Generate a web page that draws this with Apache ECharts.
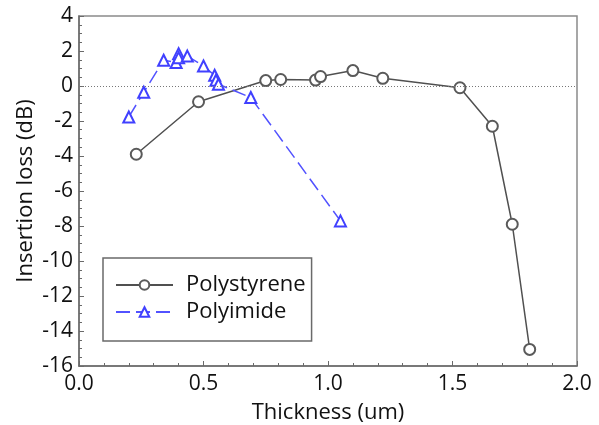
<!DOCTYPE html>
<html>
<head>
<meta charset="utf-8">
<script src="https://cdn.jsdelivr.net/npm/echarts@6/dist/echarts.min.js"></script>
<style>
  html, body { margin: 0; padding: 0; background: #fff; }
  #chart { width: 599px; height: 425px; }
</style>
</head>
<body>
<div id="chart"></div>
<script>
// Insertion loss vs. film thickness for two polymer cladding materials
const polystyreneThickness = [0.23, 0.48, 0.75, 0.81, 0.95, 0.97, 1.10, 1.22, 1.53, 1.66, 1.74, 1.81];
const polystyreneLoss      = [-3.9, -0.9, 0.31, 0.37, 0.34, 0.54, 0.88, 0.44, -0.1, -2.3, -7.9, -15.05];

const polyimideThickness = [0.20, 0.26, 0.34, 0.39, 0.40, 0.40, 0.435, 0.50, 0.545, 0.55, 0.56, 0.69, 1.05];
const polyimideLoss      = [-1.77, -0.36, 1.47, 1.34, 1.85, 1.62, 1.71, 1.14, 0.61, 0.33, 0.10, -0.66, -7.71];

const seriesNames = ['Polystyrene', 'Polyimide'];
const xTicks = [0.0, 0.5, 1.0, 1.5, 2.0];
const yTicks = [-16, -14, -12, -10, -8, -6, -4, -2, 0, 2, 4];

const pairs = (xs, ys) => xs.map((x, i) => [x, ys[i]]);

const font = '"Open Sans", "Noto Sans", sans-serif';
const axisGray = '#6a6a6a';
const textColor = '#111111';

const chart = echarts.init(document.getElementById('chart'), null, { renderer: 'canvas' });

chart.setOption({
  animation: false,
  backgroundColor: '#ffffff',
  textStyle: { fontFamily: font },
  grid: {
    left: 79, top: 16, right: 22, bottom: 59,
    outerBoundsMode: 'none',
    containLabel: false,
    show: true, borderColor: '#8a8a8a', borderWidth: 1.5
  },
  legend: {
    orient: 'vertical',
    left: 103, top: 258,
    padding: [16, 6, 18, 12],
    itemGap: 5,
    itemWidth: 57, itemHeight: 12,
    borderColor: '#6a6a6a', borderWidth: 1.5,
    backgroundColor: '#ffffff',
    textStyle: { fontFamily: font, fontSize: 22, color: textColor, padding: [0, 0, 0, 8] },
    data: seriesNames
  },
  xAxis: {
    type: 'value',
    min: xTicks[0], max: xTicks[xTicks.length - 1], interval: 0.5,
    name: 'Thickness (um)',
    nameLocation: 'middle', nameGap: 36,
    nameMoveOverlap: false,
    nameTextStyle: { fontFamily: font, fontSize: 22, color: textColor },
    axisLine: { show: true, onZero: false, lineStyle: { color: axisGray, width: 1.5 } },
    axisTick: { show: true, inside: true, length: 5, lineStyle: { color: axisGray } },
    minorTick: { show: true, splitNumber: 5, length: 3, lineStyle: { color: axisGray } },
    splitLine: { show: false },
    axisLabel: {
      fontFamily: font, fontSize: 21, color: textColor, margin: 8,
      formatter: v => v.toFixed(1)
    }
  },
  yAxis: {
    type: 'value',
    min: yTicks[0], max: yTicks[yTicks.length - 1], interval: 2,
    name: 'Insertion loss (dB)',
    nameLocation: 'middle', nameGap: 42, nameRotate: 90,
    nameMoveOverlap: false,
    nameTextStyle: { fontFamily: font, fontSize: 22, color: textColor },
    axisLine: { show: true, onZero: false, lineStyle: { color: axisGray, width: 1.5 } },
    axisTick: { show: true, inside: true, length: 5, lineStyle: { color: axisGray } },
    minorTick: { show: true, splitNumber: 4, length: 3, lineStyle: { color: axisGray } },
    splitLine: { show: false },
    axisLabel: { fontFamily: font, fontSize: 21, color: textColor, margin: 6 }
  },
  series: [
    {
      name: seriesNames[0],
      type: 'line',
      data: pairs(polystyreneThickness, polystyreneLoss),
      symbol: 'emptyCircle',
      symbolSize: 11,
      showAllSymbol: true,
      lineStyle: { color: '#505050', width: 1.5 },
      itemStyle: { color: '#5a5a5a', borderWidth: 1.3 },
      z: 3,
      markLine: {
        silent: true,
        symbol: ['none', 'none'],
        label: { show: false },
        lineStyle: { color: '#777777', type: [1, 2], width: 1 },
        data: [{ yAxis: 0 }]
      }
    },
    {
      name: seriesNames[1],
      type: 'line',
      data: pairs(polyimideThickness, polyimideLoss),
      symbol: 'emptyTriangle',
      symbolSize: 11,
      showAllSymbol: true,
      lineStyle: { color: '#5252ff', width: 1.5, type: [14, 6] },
      itemStyle: { color: '#4040ff', borderWidth: 1.3 },
      z: 4
    }
  ]
});
</script>
</body>
</html>
